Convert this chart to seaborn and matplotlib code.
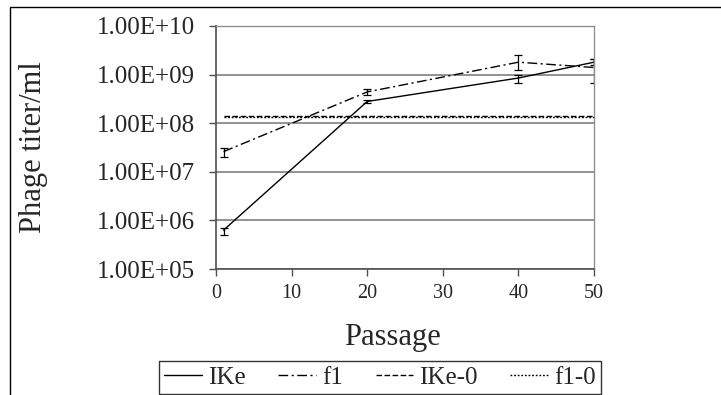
import seaborn as sns
import matplotlib.pyplot as plt
import pandas as pd
import numpy as np
from matplotlib.patches import Rectangle
from matplotlib.ticker import FixedLocator, FuncFormatter, NullLocator

# titer data
passage = [1, 20, 40, 50]
ike = [6.3e5, 2.8e8, 8.5e8, 1.8e9]
ike_lo = [5.0e5, 2.6e8, 6.8e8, 1.6e9]
ike_hi = [6.9e5, 3.0e8, 1.0e9, 2.1e9]
f1 = [2.6e7, 4.4e8, 1.8e9, 1.4e9]
f1_lo = [2.0e7, 3.8e8, 1.25e9, 6.8e8]
f1_hi = [3.1e7, 5.0e8, 2.5e9, 2.1e9]
ike0 = 1.40e8
f1_0 = 1.32e8
ref_x = [1, 50]

sns.set_style('white')
plt.rcParams['font.family'] = ['Liberation Serif', 'DejaVu Serif']

df = pd.DataFrame({
    'Passage': passage * 2 + ref_x * 2,
    'titer': ike + f1 + [ike0, ike0, f1_0, f1_0],
    'series': ['IKe'] * 4 + ['f1'] * 4 + ['IKe-0'] * 2 + ['f1-0'] * 2,
})

fig = plt.figure(figsize=(7.21, 3.95), dpi=100)
ax = fig.add_axes([216 / 721, 1 - 269 / 395, (594 - 216) / 721, (269 - 26) / 395])

styles = {'IKe': '-', 'f1': (0, (7, 2.5, 1.5, 2.5)),
          'IKe-0': (0, (4, 1.8)), 'f1-0': (0, (1.3, 1.3))}
for name, ls in styles.items():
    sub = df[df['series'] == name]
    sns.lineplot(data=sub, x='Passage', y='titer', ax=ax, color='black',
                 linestyle=ls, linewidth=1.0, label=name, legend=False)

for y, lo, hi in [(ike, ike_lo, ike_hi), (f1, f1_lo, f1_hi)]:
    y = np.array(y)
    ax.errorbar(passage, y, yerr=[y - np.array(lo), np.array(hi) - y],
                fmt='none', ecolor='black', elinewidth=0.9, capsize=2.8, capthick=0.9)

ax.set_yscale('log')
ax.set_ylim(1e5, 1e10)
ax.set_xlim(0, 50)
ax.set_xticks([0, 10, 20, 30, 40, 50])
ax.yaxis.set_major_locator(FixedLocator([10.0 ** k for k in range(5, 11)]))
ax.yaxis.set_minor_locator(NullLocator())
ax.yaxis.set_major_formatter(FuncFormatter(lambda v, p: '1.00E+%02d' % round(np.log10(v))))
ax.grid(axis='y', color='#808080', linewidth=1.2)
ax.set_axisbelow(True)

for s in ['top', 'right']:
    ax.spines[s].set_color('#909090')
    ax.spines[s].set_linewidth(1.0)
for s in ['left', 'bottom']:
    ax.spines[s].set_color('#505050')
    ax.spines[s].set_linewidth(1.2)

ax.tick_params(axis='y', which='major', direction='out', length=5, width=1,
               color='#505050', left=True, labelsize=18, pad=10)
ax.tick_params(axis='x', which='major', direction='out', length=5, width=1,
               color='#505050', bottom=True, labelsize=14.5, pad=6)

ax.set_xlabel('Passage', fontsize=22)
ax.set_ylabel('Phage titer/ml', fontsize=22)
ax.xaxis.set_label_coords(0.466, -0.28)
ax.yaxis.set_label_coords(-0.484, 0.5)
ax.xaxis.label.set_va('center')
ax.yaxis.label.set_va('center')

handles, labels = ax.get_legend_handles_labels()
leg = fig.legend(handles, labels, loc='upper center', bbox_to_anchor=(380 / 721, 1 - 361 / 395),
                 ncol=4, fontsize=18, frameon=True, fancybox=False, edgecolor='black',
                 handlelength=1.5, handletextpad=0.25, columnspacing=1.3, borderpad=0.2,
                 borderaxespad=0)
leg.get_frame().set_linewidth(1.0)

# outer chart border (only top and left edges are in frame)
fig.add_artist(Rectangle((10 / 721, -0.1), 1.2, 1.1 - 7 / 395, transform=fig.transFigure,
                         fill=False, edgecolor='black', linewidth=1.0))

fig.savefig('out.png', dpi=100)
